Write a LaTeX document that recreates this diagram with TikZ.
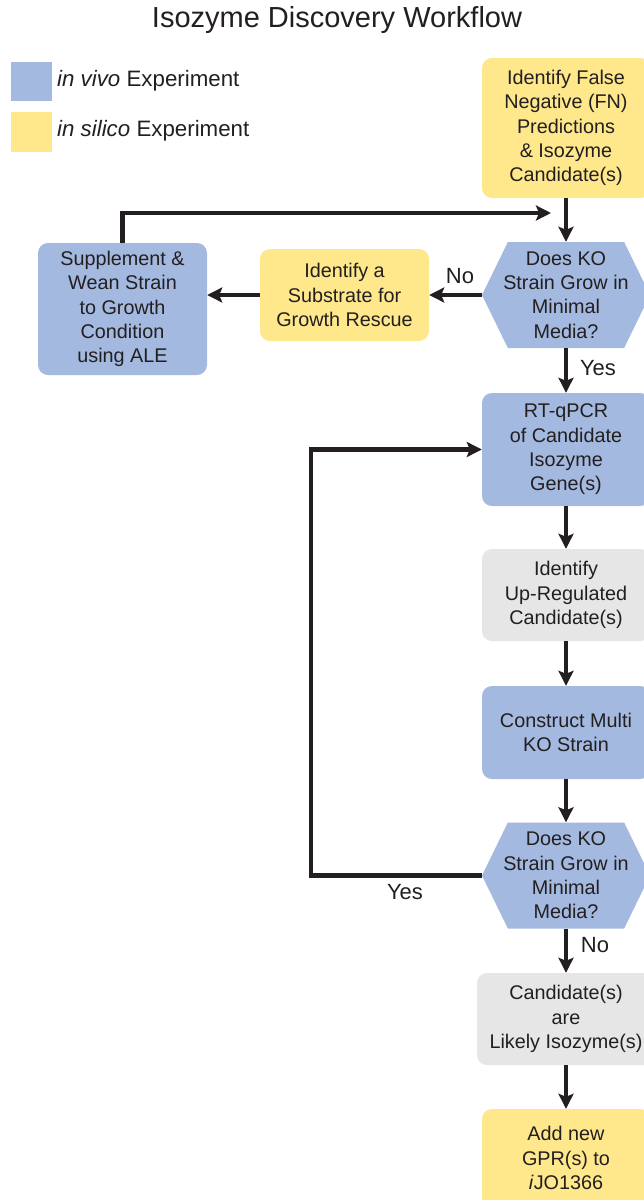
\documentclass[tikz,border=0pt]{standalone}
\usepackage{fontspec}
\setmainfont{Liberation Sans}
\usetikzlibrary{arrows.meta,shapes.symbols}
\definecolor{vivo}{RGB}{164,185,224}
\definecolor{silico}{RGB}{255,232,140}
\definecolor{grayb}{RGB}{230,230,230}
\definecolor{ink}{RGB}{35,31,32}
\tikzset{
  base/.style={inner sep=0pt, align=center, text=ink, font=\fontsize{19.8}{24.3}\selectfont},
  box/.style={base, rounded corners=10pt, minimum width=168pt},
  vivobox/.style={box, fill=vivo},
  silicobox/.style={box, fill=silico},
  graybox/.style={box, fill=grayb},
  hexa/.style={base, shape=signal, signal to=west and east, signal pointer angle=128, fill=vivo, minimum width=168pt, minimum height=106pt, inner xsep=-5pt},
  arr/.style={draw=ink, line width=4.5pt, -{Stealth[length=15pt,width=15pt,inset=3pt]}},
  lbl/.style={text=ink, font=\fontsize{22}{26}\selectfont, inner sep=0pt},
}
\begin{document}
\begin{tikzpicture}[x=1pt,y=-1pt]
\useasboundingbox (0,0) rectangle (644,1200);
\fill[white] (0,0) rectangle (644,1200);
% title
\node[lbl, font=\fontsize{29}{33}\selectfont] (title) at (337,20) {Isozyme Discovery Workflow};
% legend
\fill[vivo] (11,62) rectangle (52,101);
\node[lbl, anchor=west, font=\fontsize{22.3}{26}\selectfont] (lg1) at (57,81) {\textit{in vivo} Experiment};
\fill[silico] (11,112) rectangle (52,152);
\node[lbl, anchor=west, font=\fontsize{22.3}{26}\selectfont] (lg2) at (57,131) {\textit{in silico} Experiment};
% nodes
\node[silicobox, minimum height=140pt] (fn) at (566,128) {Identify False\\Negative (FN)\\Predictions\\\& Isozyme\\Candidate(s)};
\node[hexa] (h1) at (566,295) {Does KO\\Strain Grow in\\Minimal\\Media?};
\node[silicobox, minimum width=169pt, minimum height=92pt] (sub) at (344.5,295) {Identify a\\Substrate for\\Growth Rescue};
\node[vivobox, minimum width=169pt, minimum height=132pt] (sup) at (122.5,309) {Supplement \&\\Wean Strain\\to Growth\\Condition\\using ALE};
\node[vivobox, minimum height=113pt] (rt) at (566,449.5) {RT-qPCR\\of Candidate\\Isozyme\\Gene(s)};
\node[graybox, minimum height=92pt] (up) at (566,595) {Identify\\Up-Regulated\\Candidate(s)};
\node[vivobox, minimum height=93pt] (mko) at (566,732.5) {Construct Multi\\KO Strain};
\node[hexa] (h2) at (566,875.5) {Does KO\\Strain Grow in\\Minimal\\Media?};
\node[graybox, minimum width=178pt, minimum height=92pt] (iso) at (566,1019) {Candidate(s)\\are\\Likely Isozyme(s)};
\node[silicobox, minimum height=98pt] (gpr) at (566,1158) {Add new\\GPR(s) to\\\textit{i}JO1366};
% helper coordinates
\coordinate (lp) at (551,213);
\coordinate (c2) at (311,875.5);
% connectors
\draw[arr] (fn.south) -- (h1.north);
\draw[arr] (h1.west) -- (sub.east);
\draw[arr] (sub.west) -- (sup.east |- sub.west);
\draw[arr] (sup.north) |- (lp);
\draw[arr] (h1.south) -- (rt.north);
\draw[arr] (rt.south) -- (up.north);
\draw[arr] (up.south) -- (mko.north);
\draw[arr] (mko.south) -- (h2.north);
\draw[arr] (h2.west) -- (c2) |- (rt.west);
\draw[arr] (h2.south) -- (iso.north);
\draw[arr] (iso.south) -- (gpr.north);
% labels
\node[lbl] (no1) at (460,276) {No};
\node[lbl] (yes1) at (598,368) {Yes};
\node[lbl] (yes2) at (405,892) {Yes};
\node[lbl] (no2) at (595,945) {No};
\end{tikzpicture}
\end{document}
